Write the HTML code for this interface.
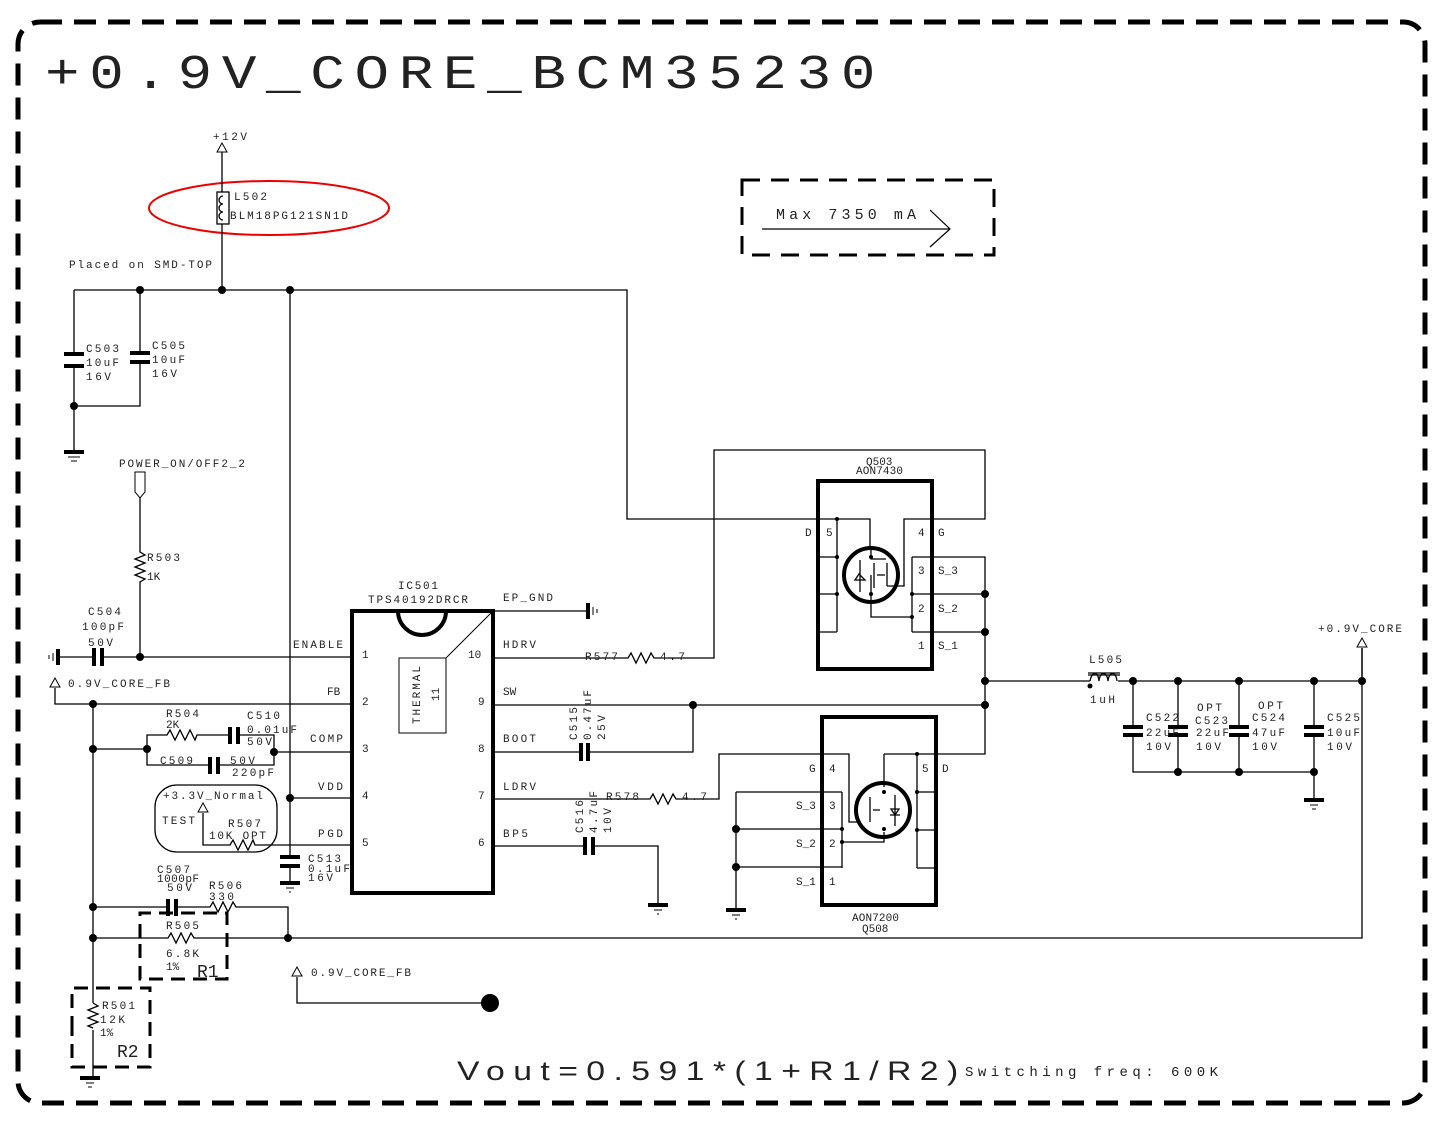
<!DOCTYPE html>
<html><head><meta charset="utf-8"><style>
html,body{margin:0;padding:0;background:#fff}
svg{display:block}
text{font-family:"Liberation Mono","DejaVu Sans Mono",monospace;font-size:11px;fill:#222}
</style></head><body>
<svg width="1445" height="1127" viewBox="0 0 1445 1127" xmlns="http://www.w3.org/2000/svg">
<g fill="none" stroke="#000">
<rect x="18" y="22" width="1407" height="1081" rx="22" stroke-width="5" stroke-dasharray="22 12"/>
<rect x="742" y="180" width="252" height="75" stroke-width="3" stroke-dasharray="18 11"/>
<path d="M762 229H950M930 210L950 229L930 247" stroke-width="1.2"/>
<ellipse cx="269" cy="208" rx="120" ry="27" stroke="#e00" stroke-width="2"/>
<g stroke-width="1.3">
<path d="M222 152V290"/>
<rect x="217" y="192" width="12" height="32" fill="#fff"/>
<path d="M223 196a4 4 0 1 0 0 8a4 4 0 1 0 0 8a4 4 0 1 0 0 8"/>
<path d="M74 290H627V519H870V548M74 290V355M74 366V452M74 406H140V361M140 290V352"/>
<path d="M290 290V857M290 866V883"/>
<path d="M140 498V552l5 3l-10 4l10 4l-10 4l10 4l-10 4l10 4l-5 3V657"/>
<path d="M58 657H94M102 657H352"/>
<path d="M55 688V704H352M93 704V1003M93 1030V1078"/>
<path d="M93 749H147V735H167l3 -5l5 10l5 -10l5 10l5 -10l5 10l2 -5H230M238 735H274V765H218M210 765H147V749M274 752H352"/>
<path d="M290 798H352"/>
<path d="M203 813V845H230l3 -5l5 10l5 -10l5 10l5 -10l2 5H352"/>
<rect x="155" y="785" width="122" height="67" rx="22"/>
<path d="M93 907H168M176 907H210l3 -5l5 10l5 -10l5 10l5 -10l3 5H288V938"/>
<path d="M93 938H168l3 -5l5 10l5 -10l5 10l5 -10l3 5H1362V648"/>
<path d="M93 1003l5 3l-10 4l10 4l-10 4l10 4l-10 4l5 2"/>
<path d="M297 977V1003H490"/>
<path d="M493 611H588M493 658H628l3 -5l5 10l5 -10l5 10l5 -10l3 5H714V450H985V519H904V586H887"/>
<path d="M493 705H985M693 705V752H588M581 752H493"/>
<path d="M493 799H650l3 -5l5 10l5 -10l5 10l5 -10l3 5H719V754H849V822H857"/>
<path d="M493 846H585M593 846H658V905"/>
<path d="M837 519V632M818 557H837M818 594H837M818 632H837M871 548V559H886M887 563V586M871 575V594M871 594V617H912M912 557V632M912 557H985V705M912 594H985M912 632H985M985 681H1090"/>
<path d="M860 560V592M855 580H865M859 574l-4 6h10z"/>
<path d="M874 563V588M877 575H885"/>
<path d="M884 754H985V705M917 754V868M917 792H936M917 830H936M917 868H936M884 754V787M884 832V842H842M842 792V868M736 792H842M736 829H842M736 867H842M736 792V910"/>
<path d="M870 797V822M873 810H880M895 795V826M890 815h10M895 815l-4 -6h8z"/>
<path d="M1118 681H1362M1133 681V727M1133 735V772H1314M1178 681V727M1178 735V772M1239 681V727M1239 735V772M1314 681V727M1314 735V800"/>
<path d="M1090 681c2 -10 8 -10 9 0c1 -10 8 -10 9 0c1 -10 8 -10 9 0"/>
<path d="M1088 673H1120M1088 675H1120"/>
<path d="M1362 648V681"/>
</g>
<g stroke-width="4">
<rect x="352" y="611" width="141" height="282"/>
<path d="M398 611a24 24 0 0 0 48 0"/>
<rect x="818" y="481" width="114" height="188"/>
<rect x="822" y="717" width="114" height="188"/>
<circle cx="871" cy="575" r="27"/>
<circle cx="883" cy="810" r="27"/>
<path d="M64 354H84M64 366H84M130 353H150M130 362H150M280 857H300M280 866H300"/>
<path d="M94 648V666M102 648V666M230 727V744M238 727V744M210 757V774M218 757V774M168 899V916M176 899V916"/>
<path d="M581 743V761M588 743V761M585 837V855M593 837V855"/>
<path d="M1123 727H1143M1123 735H1143M1168 727H1188M1168 735H1188M1229 727H1249M1229 735H1249M1304 727H1324M1304 735H1324"/>
<path d="M58 649V665M588 603V619"/>
<path d="M64 452H84M648 905H668M726 910H746M1304 800H1324M280 883H300M80 1078H100"/>
</g>
<g stroke-width="3" stroke-dasharray="14 8">
<path d="M140 938V913H227V979H140V938"/>
<path d="M72 1030V988H150V1067H72V1030"/>
</g>
<g stroke-width="1">
<path d="M68 457H80M71 461H77M654 910H662M657 914H659M732 915H740M735 919H737M1310 805H1318M1312 809H1316M286 888H294M289 892H291M86 1083H94M88 1087H92"/>
<path d="M53 653V661M49 655V659M593 607V615M597 609V613"/>
<rect x="399" y="658" width="47" height="75"/>
<path d="M446 658L493 611"/>
</g>
<g stroke-width="1" fill="#fff">
<path d="M222 143l-5 9h10z"/><path d="M55 678l-5 9h10z"/><path d="M203 803l-5 9h10z"/><path d="M297 967l-5 9h10z"/><path d="M1362 638l-5 9h10z"/>
<path d="M135 472h10v20l-5 6l-5 -6z"/>
</g>
</g>
<g fill="#000">
<circle cx="140" cy="290" r="4"/><circle cx="222" cy="290" r="4"/><circle cx="290" cy="290" r="4"/><circle cx="74" cy="406" r="4"/>
<circle cx="140" cy="657" r="4"/><circle cx="93" cy="704" r="4"/><circle cx="93" cy="749" r="4"/><circle cx="147" cy="749" r="4"/><circle cx="274" cy="752" r="4"/>
<circle cx="290" cy="798" r="4"/><circle cx="93" cy="907" r="4"/><circle cx="93" cy="938" r="4"/><circle cx="288" cy="938" r="4"/>
<circle cx="490" cy="1003" r="9"/><circle cx="693" cy="705" r="4"/>
<circle cx="985" cy="594" r="4"/><circle cx="985" cy="632" r="4"/><circle cx="985" cy="681" r="4"/><circle cx="985" cy="705" r="4"/>
<circle cx="736" cy="829" r="4"/><circle cx="736" cy="867" r="4"/><circle cx="1090" cy="686" r="2.5"/>
<circle cx="1133" cy="681" r="4"/><circle cx="1178" cy="681" r="4"/><circle cx="1239" cy="681" r="4"/><circle cx="1314" cy="681" r="4"/><circle cx="1362" cy="681" r="4"/>
<circle cx="1178" cy="772" r="4"/><circle cx="1239" cy="772" r="4"/><circle cx="1314" cy="772" r="4"/>
<circle cx="837" cy="519" r="2"/><circle cx="837" cy="557" r="2"/><circle cx="837" cy="594" r="2"/><circle cx="871" cy="557" r="2"/><circle cx="871" cy="594" r="2"/><circle cx="912" cy="594" r="2"/><circle cx="912" cy="617" r="2"/>
<circle cx="917" cy="754" r="2"/><circle cx="917" cy="792" r="2"/><circle cx="917" cy="830" r="2"/><circle cx="842" cy="829" r="2"/><circle cx="842" cy="842" r="2"/><circle cx="884" cy="792" r="2"/><circle cx="884" cy="829" r="2"/>
</g>
<g transform="scale(1.2,1)"><text x="37.5" y="88" style="font-size:48px" textLength="692" lengthAdjust="spacing">+0.9V_CORE_BCM35230</text></g>
<text x="776" y="219" style="font-size:15px" textLength="140">Max 7350 mA</text>
<text x="213" y="140" textLength="34">+12V</text>
<text x="234" y="200" textLength="33">L502</text>
<text x="230" y="219" textLength="118">BLM18PG121SN1D</text>
<text x="69" y="268" textLength="143">Placed on SMD-TOP</text>
<text x="86" y="352" textLength="33">C503</text><text x="86" y="366" textLength="33">10uF</text><text x="86" y="380" textLength="25">16V</text>
<text x="152" y="349" textLength="33">C505</text><text x="152" y="363" textLength="33">10uF</text><text x="152" y="377" textLength="25">16V</text>
<text x="119" y="467" textLength="126">POWER_ON/OFF2_2</text>
<text x="147" y="561" textLength="33">R503</text><text x="147" y="580">1K</text>
<text x="88" y="615" textLength="33">C504</text><text x="82" y="630" textLength="42">100pF</text><text x="88" y="646" textLength="25">50V</text>
<text x="68" y="687" textLength="102">0.9V_CORE_FB</text>
<text x="166" y="717" textLength="33">R504</text><text x="166" y="728">2K</text>
<text x="247" y="719" textLength="33">C510</text><text x="247" y="733" textLength="50">0.01uF</text><text x="247" y="745" textLength="25">50V</text>
<text x="160" y="764" textLength="33">C509</text><text x="230" y="764" textLength="25">50V</text><text x="232" y="776" textLength="42">220pF</text>
<text x="163" y="799" textLength="100">+3.3V_Normal</text><text x="162" y="824" textLength="33">TEST</text>
<text x="228" y="827" textLength="33">R507</text><text x="209" y="839" textLength="57">10K OPT</text>
<text x="308" y="862" textLength="33">C513</text><text x="308" y="872" textLength="42">0.1uF</text><text x="308" y="881" textLength="25">16V</text>
<text x="157" y="873" textLength="33">C507</text><text x="157" y="882" textLength="42">1000pF</text><text x="167" y="891" textLength="25">50V</text>
<text x="209" y="889" textLength="33">R506</text><text x="209" y="900" textLength="25">330</text>
<text x="166" y="929" textLength="33">R505</text><text x="166" y="957" textLength="33">6.8K</text><text x="166" y="970">1%</text>
<text x="197" y="977" style="font-size:18px">R1</text>
<text x="102" y="1009" textLength="33">R501</text><text x="100" y="1023" textLength="25">12K</text><text x="100" y="1036">1%</text>
<text x="117" y="1057" style="font-size:18px">R2</text>
<text x="311" y="976" textLength="100">0.9V_CORE_FB</text>
<text x="398" y="589" textLength="40">IC501</text><text x="368" y="603" textLength="100">TPS40192DRCR</text>
<text x="293" y="648" textLength="50">ENABLE</text><text x="327" y="695">FB</text><text x="310" y="742" textLength="33">COMP</text><text x="318" y="790" textLength="25">VDD</text><text x="318" y="837" textLength="25">PGD</text>
<text x="362" y="658">1</text><text x="362" y="705">2</text><text x="362" y="752">3</text><text x="362" y="799">4</text><text x="362" y="846">5</text>
<text x="468" y="658">10</text><text x="478" y="705">9</text><text x="478" y="752">8</text><text x="478" y="799">7</text><text x="478" y="846">6</text>
<text transform="translate(420,724) rotate(-90)" textLength="58">THERMAL</text>
<text transform="translate(439,701) rotate(-90)">11</text>
<text x="503" y="601" textLength="50">EP_GND</text><text x="503" y="648" textLength="33">HDRV</text><text x="503" y="695">SW</text><text x="503" y="742" textLength="33">BOOT</text><text x="503" y="790" textLength="33">LDRV</text><text x="503" y="837" textLength="25">BP5</text>
<text x="585" y="660" textLength="33">R577</text><text x="660" y="660" textLength="25">4.7</text>
<text x="606" y="800" textLength="33">R578</text><text x="682" y="800" textLength="25">4.7</text>
<text transform="translate(577,740) rotate(-90)" textLength="33">C515</text>
<text transform="translate(591,740) rotate(-90)" textLength="50">0.47uF</text>
<text transform="translate(605,740) rotate(-90)" textLength="25">25V</text>
<text transform="translate(583,833) rotate(-90)" textLength="33">C516</text>
<text transform="translate(597,833) rotate(-90)" textLength="42">4.7uF</text>
<text transform="translate(611,833) rotate(-90)" textLength="25">10V</text>
<g style="font-size:9px">
<text x="866" y="465">Q503</text><text x="856" y="474" textLength="47">AON7430</text>
<text x="805" y="536">D</text><text x="826" y="536">5</text><text x="918" y="536">4</text><text x="938" y="536">G</text>
<text x="918" y="574">3</text><text x="938" y="574">S_3</text><text x="918" y="612">2</text><text x="938" y="612">S_2</text><text x="918" y="649">1</text><text x="938" y="649">S_1</text>
<text x="809" y="772">G</text><text x="829" y="772">4</text><text x="922" y="772">5</text><text x="942" y="772">D</text>
<text x="796" y="809">S_3</text><text x="829" y="809">3</text><text x="796" y="847">S_2</text><text x="829" y="847">2</text><text x="796" y="885">S_1</text><text x="829" y="885">1</text>
<text x="852" y="921" textLength="47">AON7200</text><text x="862" y="932">Q508</text>
</g>
<text x="1089" y="663" textLength="33">L505</text><text x="1090" y="703" textLength="25">1uH</text>
<text x="1146" y="721" textLength="33">C522</text><text x="1146" y="736" textLength="33">22uF</text><text x="1146" y="750" textLength="25">10V</text>
<text x="1197" y="711" textLength="25">OPT</text><text x="1195" y="724" textLength="33">C523</text><text x="1196" y="736" textLength="33">22uF</text><text x="1196" y="750" textLength="25">10V</text>
<text x="1258" y="709" textLength="25">OPT</text><text x="1252" y="721" textLength="33">C524</text><text x="1252" y="736" textLength="33">47uF</text><text x="1252" y="750" textLength="25">10V</text>
<text x="1327" y="721" textLength="33">C525</text><text x="1327" y="736" textLength="33">10uF</text><text x="1327" y="750" textLength="25">10V</text>
<text x="1318" y="632" textLength="84">+0.9V_CORE</text>
<g transform="scale(1.25,1)"><text x="365.6" y="1080" style="font-family:'Liberation Sans',sans-serif;font-size:27px" textLength="401" lengthAdjust="spacing">Vout=0.591*(1+R1/R2)</text></g>
<text x="965" y="1076" style="font-size:14px" textLength="253">Switching freq: 600K</text>
</svg>
</body></html>
